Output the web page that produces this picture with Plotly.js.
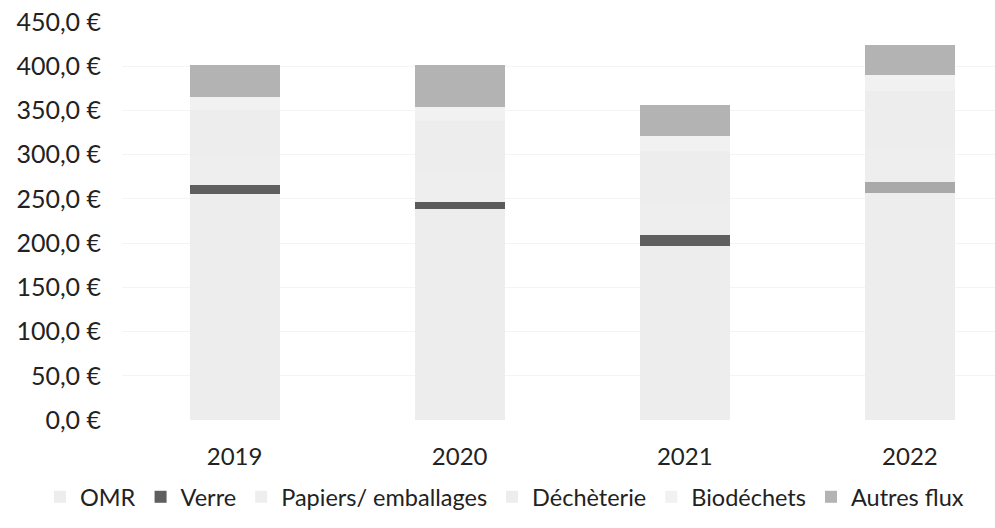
<!DOCTYPE html>
<html>
<head>
<meta charset="utf-8">
<script src="https://cdn.plot.ly/plotly-3.0.1.min.js"></script>
<style>html,body{margin:0;padding:0;background:#fff;}#chart{width:995px;height:528px;}</style>
</head>
<body>
<div id="chart"></div>
<script>
const years = ["2019", "2020", "2021", "2022"];
const omr = [255.5, 239.0, 197.0, 257.0];
const verre = [10.0, 7.5, 12.0, 12.5];
const papiers = [32.0, 34.0, 35.0, 37.0];
const decheterie = [53.0, 58.0, 60.0, 66.0];
const biodechets = [14.5, 15.5, 17.3, 17.8];
const autresFlux = [36.5, 47.5, 35.0, 34.0];
const yTicks = [0, 50, 100, 150, 200, 250, 300, 350, 400, 450];
const yTickText = yTicks.map(v => v.toFixed(1).replace(".", ",") + " €");

const font = "Lato, Open Sans, sans-serif";
function bar(name, y, color) {
  return {type: "bar", name: name, x: years, y: y, width: 0.4,
    marker: {color: color, line: {width: 0}}, hoverinfo: "y+name"};
}
const traces = [
  bar("OMR", omr, "#ededed"),
  bar("Verre", verre, ["#5f5f5f", "#5a5a5a", "#5f5f5f", "#a9a9a9"]),
  bar("Papiers/ emballages", papiers, "#eeeeee"),
  bar("Déchèterie", decheterie, "#ededed"),
  bar("Biodéchets", biodechets, "#f1f1f1"),
  bar("Autres flux", autresFlux, "#b3b3b3")
];
const layout = {
  width: 995, height: 528,
  barmode: "stack",
  paper_bgcolor: "#ffffff", plot_bgcolor: "#ffffff",
  margin: {l: 122, r: 0, t: 22, b: 108},
  font: {family: font, color: "#222", size: 22},
  xaxis: {
    type: "category", range: [-0.5, 3.378], showgrid: false, zeroline: false,
    showline: false, ticks: "", ticklabelstandoff: 20,
    tickfont: {family: font, size: 24, color: "#222"}
  },
  yaxis: {
    range: [0, 450], tickvals: yTicks, ticktext: yTickText,
    showgrid: true, gridcolor: "#f4f4f4", gridwidth: 1, zeroline: false,
    showline: false, ticks: "", ticklabelstandoff: 20,
    tickfont: {family: font, size: 25, color: "#222"}
  },
  showlegend: true,
  legend: {
    orientation: "h", xref: "paper", yref: "paper",
    x: -0.094, xanchor: "left", y: -0.1935, yanchor: "middle",
    bgcolor: "rgba(0,0,0,0)",
    font: {family: font, size: 23.5, color: "#222"},
    itemwidth: 30, traceorder: "normal", tracegroupgap: 0
  }
};
Plotly.newPlot("chart", traces, layout, {displayModeBar: false, staticPlot: true});
</script>
</body>
</html>
